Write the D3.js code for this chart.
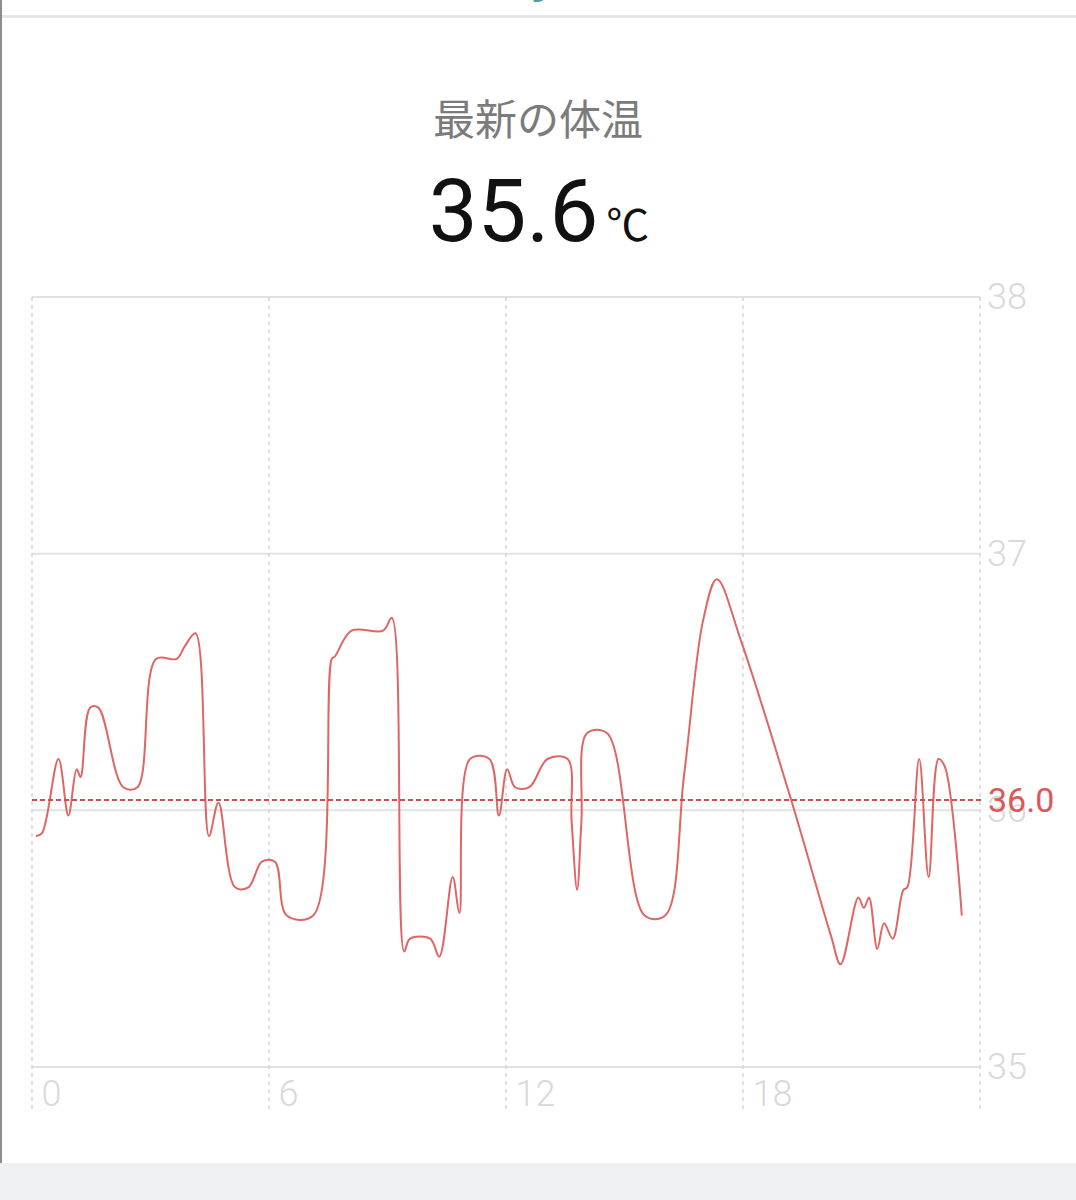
<!DOCTYPE html>
<html>
<head>
<meta charset="utf-8">
<script src="https://cdn.jsdelivr.net/npm/d3@7"></script>
<style>
  html, body { margin: 0; padding: 0; background: #fff; }
  svg { display: block; }
</style>
</head>
<body>
<svg width="1076" height="1200"></svg>
<script>
// readings for the day (hour of day, body temperature)
var hours = [0.10, 0.25, 0.67, 0.92, 1.13, 1.23, 1.47, 1.68, 2.31, 2.67,
             3.14, 3.66, 3.87, 4.14, 4.48, 4.72, 5.14, 5.48, 5.82, 6.15,
             6.45, 7.12, 7.59, 7.67, 8.09, 8.89, 9.11, 9.42, 9.57, 10.08,
             10.31, 10.65, 10.82, 11.09, 11.58, 11.82, 12.03, 12.23, 12.59, 13.05,
             13.56, 13.66, 13.80, 13.91, 14.05, 14.56, 15.51, 16.03, 16.51, 16.99,
             17.34, 17.95, 19.22, 20.23, 20.47, 20.92, 21.06, 21.19, 21.40, 21.57,
             21.79, 22.06, 22.16, 22.46, 22.70, 22.95, 23.11, 23.54];
var temps = [35.90, 35.91, 36.20, 35.98, 36.16, 36.13, 36.40, 36.40, 36.09, 36.09,
             36.59, 36.59, 36.64, 36.69, 35.90, 36.03, 35.70, 35.70, 35.80, 35.80,
             35.59, 35.59, 36.59, 36.60, 36.70, 36.70, 36.75, 35.45, 35.50, 35.50,
             35.43, 35.74, 35.60, 36.20, 36.20, 35.98, 36.16, 36.09, 36.09, 36.20,
             36.20, 35.96, 35.69, 35.96, 36.30, 36.30, 35.59, 35.59, 36.14, 36.74,
             36.90, 36.66, 36.04, 35.51, 35.40, 35.66, 35.62, 35.66, 35.46, 35.56,
             35.50, 35.69, 35.70, 36.20, 35.74, 36.20, 36.17, 35.59];

var xTicks = [0, 6, 12, 18, 24];
var xTickLabels = ["0", "6", "12", "18", ""];
var yTicks = [35, 36, 37, 38];
var avgTemp = 36.04;
var latestTemp = "35.6";
var title = "最新の体温";

var svg = d3.select("svg"),
    plotLeft = 32, plotRight = 980, plotTop = 297, plotBottom = 1067;

var xScale = d3.scaleLinear().domain([0, 24]).range([plotLeft, plotRight]),
    yScale = d3.scaleLinear().domain([35, 38]).range([plotBottom, plotTop]);

// page chrome
svg.append("rect").attr("x", 0).attr("y", 0).attr("width", 1076).attr("height", 1200).attr("fill", "#fff");
svg.append("rect").attr("x", 0).attr("y", 1163).attr("width", 1076).attr("height", 37).attr("fill", "#eff0f4");
svg.append("rect").attr("x", 0).attr("y", 15).attr("width", 1076).attr("height", 3).attr("fill", "#e6e6e6");
svg.append("rect").attr("x", 0).attr("y", 0).attr("width", 2).attr("height", 1163).attr("fill", "#8c8c8c");
svg.append("path")
    .attr("d", d3.arc()({innerRadius: 9, outerRadius: 12, startAngle: Math.PI * 0.6, endAngle: Math.PI * 1.1}))
    .attr("transform", "translate(537,-10)")
    .attr("fill", "#4f9aa6");

// header
svg.append("text")
    .attr("x", 538).attr("y", 135)
    .attr("text-anchor", "middle")
    .attr("font-family", "'Noto Sans CJK JP', sans-serif")
    .attr("font-size", 42)
    .attr("fill", "#7b7b7b")
    .text(title);

var big = svg.append("text")
    .attr("x", 539).attr("y", 241)
    .attr("text-anchor", "middle")
    .attr("fill", "#111");
big.append("tspan")
    .attr("font-family", "Roboto, sans-serif")
    .attr("font-size", 87)
    .text(latestTemp);
big.append("tspan")
    .attr("dx", 8)
    .attr("font-family", "'Noto Sans CJK JP', sans-serif")
    .attr("font-size", 43)
    .text("℃");

var g = svg.append("g").attr("class", "graph");

// horizontal grid
g.selectAll(".hgrid")
    .data(yTicks)
    .enter().append("line")
    .attr("class", "hgrid")
    .attr("x1", plotLeft).attr("x2", plotRight)
    .attr("y1", function(d) { return yScale(d); })
    .attr("y2", function(d) { return yScale(d); })
    .attr("stroke", "#e2e2e2")
    .attr("stroke-width", 2);

// vertical dashed grid
g.selectAll(".vgrid")
    .data(xTicks)
    .enter().append("line")
    .attr("class", "vgrid")
    .attr("x1", function(d) { return xScale(d); })
    .attr("x2", function(d) { return xScale(d); })
    .attr("y1", plotTop).attr("y2", plotBottom + 46)
    .attr("stroke", "#d6d6d6")
    .attr("stroke-width", 1.5)
    .attr("stroke-dasharray", "4,4");

// axes (labels only)
var yAxis = g.append("g")
    .attr("transform", "translate(" + plotRight + ",0)")
    .call(d3.axisRight(yScale).tickValues(yTicks).tickSize(0).tickPadding(7).tickFormat(d3.format("d")));
var xAxis = g.append("g")
    .attr("transform", "translate(0," + plotBottom + ")")
    .call(d3.axisBottom(xScale).tickValues(xTicks).tickSize(0).tickPadding(13)
        .tickFormat(function(d, i) { return xTickLabels[i]; }));

[yAxis, xAxis].forEach(function(a) {
    a.select(".domain").remove();
    a.selectAll("text")
        .attr("font-family", "Roboto, sans-serif")
        .attr("font-weight", 300)
        .attr("font-size", 36)
        .attr("fill", "#d9d9d9");
});
xAxis.selectAll("text").attr("text-anchor", "start").attr("dx", 9);

// temperature line
var points = hours.map(function(h, i) { return [h, temps[i]]; });
var line = d3.line()
    .x(function(d) { return xScale(d[0]); })
    .y(function(d) { return yScale(d[1]); })
    .curve(d3.curveCatmullRom.alpha(0.5));

g.append("path")
    .datum(points)
    .attr("d", line)
    .attr("fill", "none")
    .attr("stroke", "#e06565")
    .attr("stroke-width", 2);

// average line
g.append("line")
    .attr("x1", plotLeft).attr("x2", plotRight + 4)
    .attr("y1", yScale(avgTemp)).attr("y2", yScale(avgTemp))
    .attr("stroke", "#c9504f")
    .attr("stroke-width", 2)
    .attr("stroke-dasharray", "5,3");

g.append("text")
    .attr("x", plotRight + 8)
    .attr("y", yScale(avgTemp))
    .attr("dy", "0.36em")
    .attr("font-family", "Roboto, sans-serif")
    .attr("font-size", 34)
    .attr("fill", "#dc5858")
    .text(avgTemp.toFixed(1));
</script>
</body>
</html>
